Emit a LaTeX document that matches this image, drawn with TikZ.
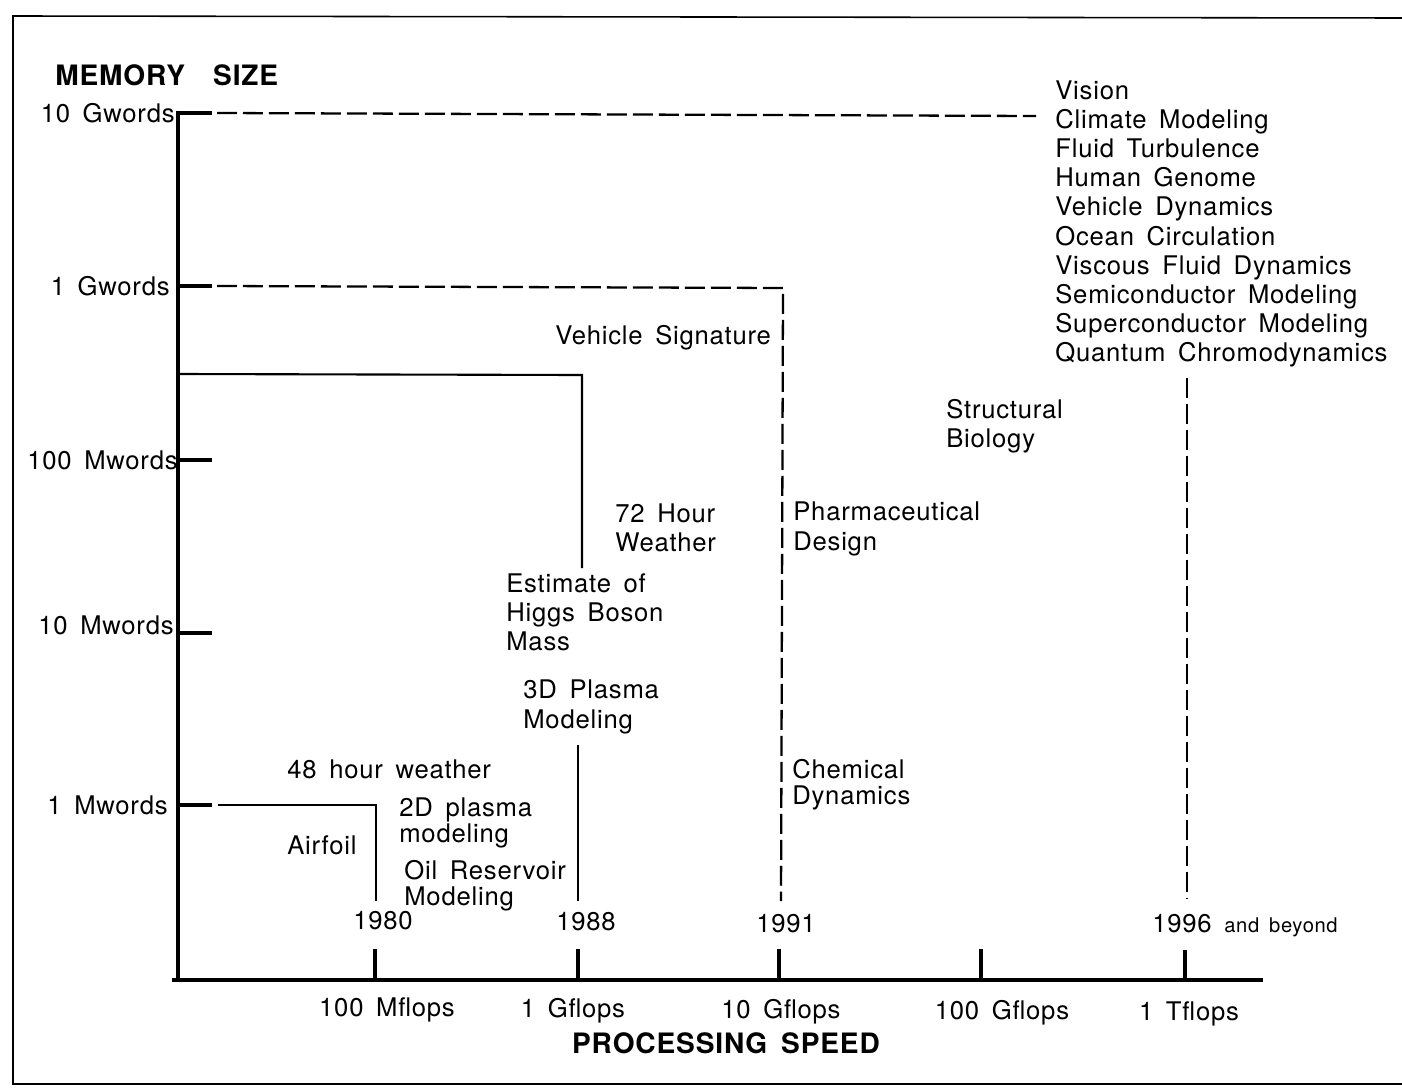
\documentclass[tikz,border=0pt]{standalone}
\usepackage{fontspec}
\setmainfont{TeX Gyre Heros}[LetterSpace=3, WordSpace=1.6]
\usepackage{tikz}
\tikzstyle{app} = [anchor=west, align=left, inner sep=0pt, font=\fontsize{14.6}{16.6}\selectfont]
\tikzstyle{tightapp} = [app, font=\fontsize{14.6}{14.8}\selectfont]
\tikzstyle{ylab} = [anchor=east, inner sep=0pt, font=\fontsize{14.6}{16.6}\selectfont]
\tikzstyle{xlab} = [inner sep=0pt, font=\fontsize{14.6}{16.6}\selectfont]
\tikzstyle{title} = [inner sep=0pt, font=\fontsize{16}{18}\bfseries\selectfont]
\tikzstyle{axis} = [line width=2.2pt]
\tikzstyle{tick} = [line width=2.6pt]
\tikzstyle{trend} = [line width=1.2pt]
\tikzstyle{trenddash} = [line width=1.3pt, dash pattern=on 0.4cm off 0.12cm]
\begin{document}
\begin{tikzpicture}[x=0.02cm, y=-0.02cm]
        \useasboundingbox (0,0) rectangle (1402,1088);
        % frame
        \draw [line width=0.9pt] (1402,18) -- (13,16) -- (13,1084) -- (1402,1084);
        % axes
        \coordinate (orig) at (178,980);
        \coordinate (ytop) at (178,111);
        \coordinate (xend) at (1263,980);
        \draw [axis] (ytop) -- (orig) -- (xend);
        \draw [axis] (orig) -- (172,980);
        % memory ticks
        \draw [tick] (178,113) -- (212,113);
        \draw [tick] (178,286) -- (212,286);
        \draw [tick] (178,460) -- (212,460);
        \draw [tick] (178,633) -- (212,633);
        \draw [tick] (178,805) -- (212,805);
        % speed ticks
        \draw [tick] (375,980) -- (375,949);
        \draw [tick] (578,980) -- (578,949);
        \draw [tick] (779,980) -- (779,949);
        \draw [tick] (981,980) -- (981,949);
        \draw [tick] (1185,980) -- (1185,950);
        % axis labels
        \node (memsize) [title, anchor=west] at (55,75) {MEMORY\quad SIZE};
        \node (procspeed) [title] at (726,1043) {PROCESSING SPEED};
        \node (g10) [ylab] at (175,113) {10 Gwords};
        \node (g1) [ylab] at (170,286) {1 Gwords};
        \node (m100) [ylab] at (178,460) {100 Mwords};
        \node (m10) [ylab] at (174,625) {10 Mwords};
        \node (m1) [ylab] at (168,805) {1 Mwords};
        \node (mf100) [xlab] at (387,1010) {100 Mflops};
        \node (gf1) [xlab] at (573,1011) {1 Gflops};
        \node (gf10) [xlab] at (781,1012) {10 Gflops};
        \node (gf100) [xlab] at (1002,1013) {100 Gflops};
        \node (tf1) [xlab] at (1189,1014) {1 Tflops};
        % years
        \node (y1980) [xlab] at (383,921) {1980};
        \node (y1988) [xlab] at (586,922) {1988};
        \node (y1991) [xlab] at (786,924) {1991};
        \node (y1996) [xlab, anchor=west] at (1152,926) {1996 {\fontsize{11.5}{13}\selectfont and beyond}};
        % applications
        \node (grand) [app] at (1055,224) {Vision\\Climate Modeling\\Fluid Turbulence\\Human Genome\\Vehicle Dynamics\\Ocean Circulation\\Viscous Fluid Dynamics\\Semiconductor Modeling\\Superconductor Modeling\\Quantum Chromodynamics};
        \node (vehsig) [app] at (555,338) {Vehicle Signature};
        \node (structbio) [app] at (946,426) {Structural\\Biology};
        \node (weather72) [app] at (615,528) {72 Hour\\Weather};
        \node (pharma) [app] at (793,529) {Pharmaceutical\\Design};
        \node (higgs) [app] at (506,612) {Estimate of\\Higgs Boson\\Mass};
        \node (plasma3d) [app] at (523,707) {3D Plasma\\Modeling};
        \node (weather48) [app] at (287,769) {48 hour weather};
        \node (plasma2d) [tightapp] at (399,823) {2D plasma\\modeling};
        \node (airfoil) [app] at (287,845) {Airfoil};
        \node (oil) [tightapp] at (404,886) {Oil Reservoir\\Modeling};
        \node (chem) [tightapp] at (792,785) {Chemical\\Dynamics};
        % 1980 envelope
        \coordinate (e80a) at (218,805);
        \coordinate (e80b) at (376,805);
        \coordinate (e80c) at (376,901);
        \draw [trend] (e80a) -- (e80b) -- (e80c);
        % 1988 envelope
        \coordinate (e88a) at (178,374);
        \coordinate (e88b) at (582,375);
        \coordinate (e88c) at (582,568);
        \coordinate (e88d) at (578,745);
        \coordinate (e88e) at (578,901);
        \draw [trend] (e88a) -- (e88b) -- (e88c);
        \draw [trend] (e88d) -- (e88e);
        % 1991 envelope
        \coordinate (e91a) at (217,286);
        \coordinate (e91b) at (783,288);
        \coordinate (e91c) at (781,901);
        \draw [trenddash] (e91a) -- (e91b) -- (e91c);
        % 1996 envelope
        \coordinate (e96a) at (217,113);
        \coordinate (e96b) at (1036,116);
        \coordinate (e96c) at (1187,378);
        \coordinate (e96d) at (1187,899);
        \draw [trenddash] (e96a) -- (e96b);
        \draw [trenddash] (e96c) -- (e96d);
    \end{tikzpicture}
\end{document}
